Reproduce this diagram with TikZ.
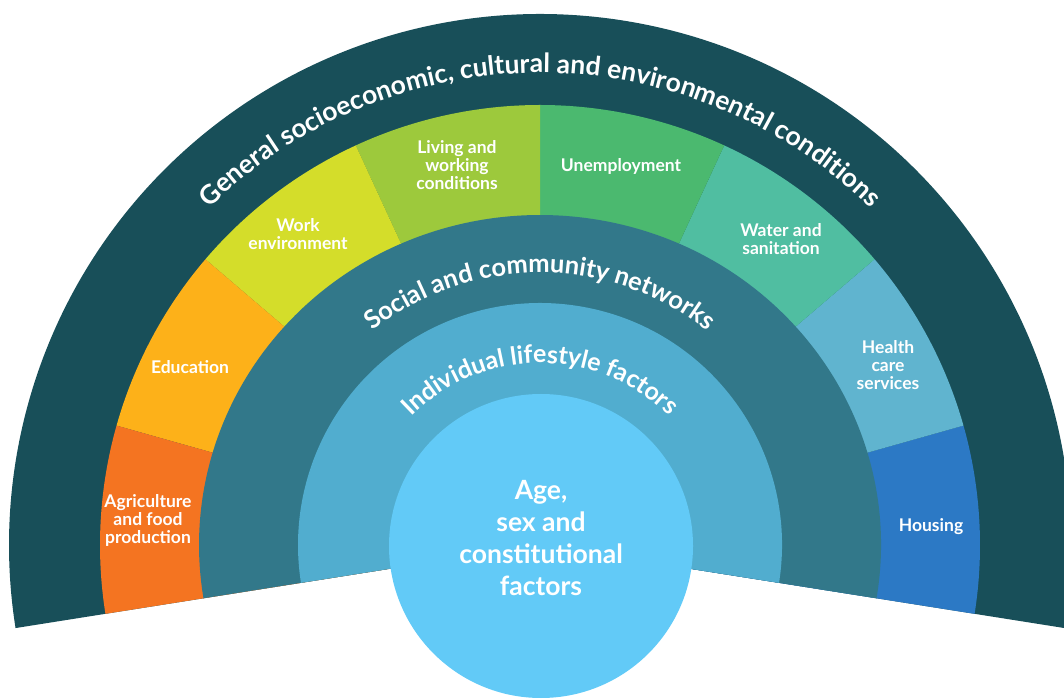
\documentclass[tikz,border=0pt]{standalone}
\usepackage{fontspec}
\setmainfont{Lato}
\usetikzlibrary{decorations.text}
\definecolor{band}{RGB}{24,79,89}
\definecolor{agri}{RGB}{244,116,33}
\definecolor{edu}{RGB}{253,177,25}
\definecolor{workc}{RGB}{212,221,42}
\definecolor{living}{RGB}{157,201,60}
\definecolor{unemp}{RGB}{75,185,111}
\definecolor{water}{RGB}{80,190,161}
\definecolor{health}{RGB}{96,180,207}
\definecolor{housing}{RGB}{44,121,197}
\definecolor{social}{RGB}{50,120,138}
\definecolor{indiv}{RGB}{81,173,207}
\definecolor{core}{RGB}{98,202,247}
\newcommand\fontgen{\bfseries\fontsize{26.5}{26.5}\selectfont}
\newcommand\fontsoc{\bfseries\fontsize{25.5}{25.5}\selectfont}
\newcommand\fontind{\bfseries\fontsize{25}{25}\selectfont}
\newcommand\wedgefill[4]{\fill[#1] (0,0) -- (#2:#4) arc[start angle=#2, end angle=#3, radius=#4] -- cycle;}
\begin{document}
\begin{tikzpicture}[x=1pt,y=1pt,
  lbl/.style={text=white, font=\bfseries\fontsize{17.5}{18}\selectfont, align=center, inner sep=0pt},
  corelbl/.style={text=white, font=\bfseries\fontsize{26.5}{32}\selectfont, align=center, inner sep=0pt},
  arctext/.style={decorate, decoration={text along path, text align=center, text color=white, text={#1}}}]
\useasboundingbox (0,0) rectangle (1064,698);
\begin{scope}[shift={(540,153)}]
  % outer band
  \wedgefill{band}{-9}{189}{531}
  % segments
  \wedgefill{housing}{-9}{15.75}{440}
  \wedgefill{health}{15.75}{40.5}{440}
  \wedgefill{water}{40.5}{65.25}{440}
  \wedgefill{unemp}{65.25}{90}{440}
  \wedgefill{living}{90}{114.75}{440}
  \wedgefill{workc}{114.75}{139.5}{440}
  \wedgefill{edu}{139.5}{164.25}{440}
  \wedgefill{agri}{164.25}{189}{440}
  % social ring (slightly flattened); parameter angles chosen so the ends lie on the 9 degree cut lines
  \fill[social] (0,0) -- ({341*cos(-9.295)},{330*sin(-9.295)})
    arc[start angle=-9.295, end angle=189.295, x radius=341, y radius=330] -- cycle;
  % individual ring
  \wedgefill{indiv}{-9}{189}{242}
  % core circle
  \fill[core] (1,-1) circle[radius=152];
  % curved labels
  \path[arctext={|\fontgen|General socioeconomic, cultural and environmental conditions}]
    (160:472) arc[start angle=160, end angle=20, radius=472];
  \path[arctext={|\fontsoc|Social and community networks}]
    (160:272) arc[start angle=160, end angle=20, radius=272];
  \path[arctext={|\fontind|Individual lifestyle factors}]
    (170:182) arc[start angle=170, end angle=10, radius=182];
\end{scope}
\node[lbl] (agri) at (148,178) {Agriculture\\and food\\production};
\node[lbl] (edu) at (190,331) {Education};
\node[lbl] (work) at (298,464) {Work\\environment};
\node[lbl] (living) at (457,533) {Living and\\working\\conditions};
\node[lbl] (unemp) at (621,532) {Unemployment};
\node[lbl] (water) at (781,458.5) {Water and\\sanitation};
\node[lbl] (health) at (888,333) {Health\\care\\services};
\node[lbl] (housing) at (931,171) {Housing};
\node[corelbl] (core) at (541,160) {Age,\\sex and\\constitutional\\factors};
\end{tikzpicture}
\end{document}
